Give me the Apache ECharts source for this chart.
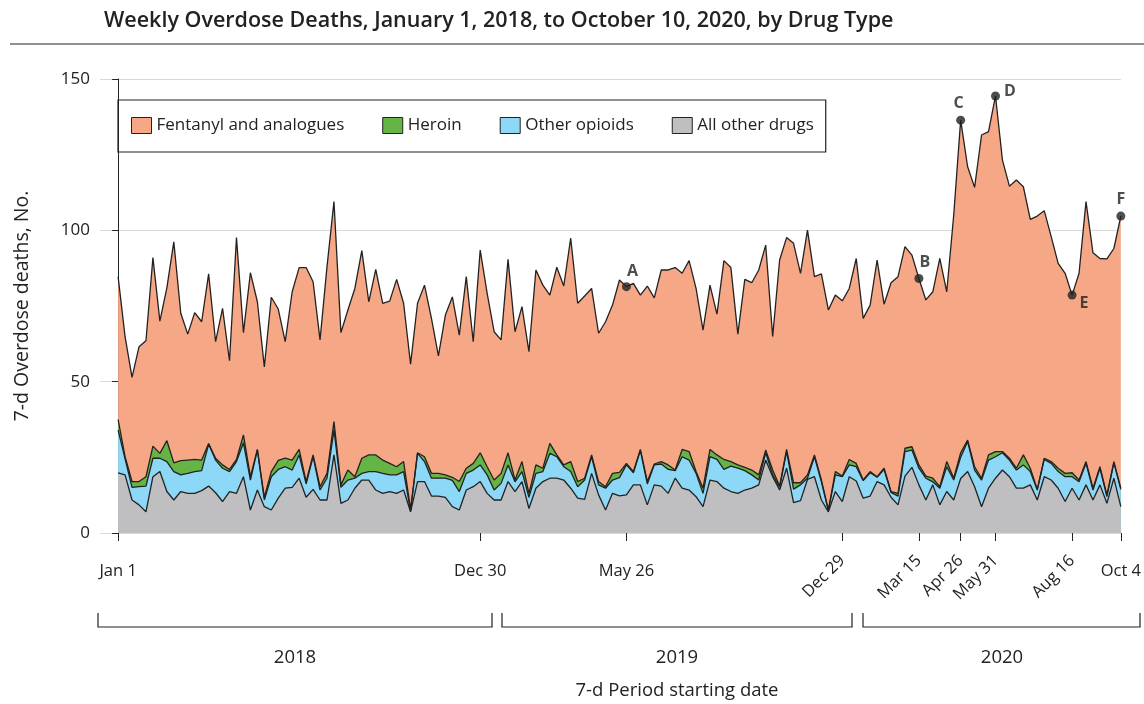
<!DOCTYPE html>
<html><head><meta charset="utf-8">
<script src="https://cdn.jsdelivr.net/npm/echarts@6.0.0/dist/echarts.min.js"></script>
<style>html,body{margin:0;padding:0;background:#fff}#c{width:1144px;height:704px}</style>
</head><body><div id="c"></div><script>
// Weekly values (index 0 = week of Jan 1, 2018; index 144 = week of Oct 4, 2020)
const allOtherDrugs = [
19.9,19.2,10.9,9.3,7.0,18.6,20.3,13.7,10.9,13.7,
13.1,13.1,14.0,15.5,13.3,10.4,13.7,13.1,18.6,7.6,
14.2,8.7,7.6,11.5,14.8,15.1,18.1,11.8,14.4,10.9,
10.9,25.8,9.8,10.9,14.8,17.5,17.5,14.2,13.1,13.7,
13.1,14.2,7.0,17.0,17.0,12.2,12.2,11.8,8.7,7.6,
14.2,15.3,17.0,13.1,10.9,10.9,17.0,13.7,17.0,8.1,
14.8,17.0,18.1,18.1,17.5,14.8,11.5,11.1,19.7,12.6,
7.6,13.1,12.3,12.6,15.9,15.9,9.3,15.9,15.5,13.1,
18.1,14.8,14.2,12.0,8.7,17.5,17.0,14.8,13.7,13.1,
14.2,14.8,15.9,24.1,18.6,14.2,21.4,10.0,10.7,17.7,
18.6,10.9,7.0,13.7,10.4,18.6,17.2,11.5,12.2,17.0,
15.9,11.8,9.3,18.8,21.7,15.9,10.9,15.9,9.3,13.7,
10.9,18.0,20.3,15.3,8.7,14.8,18.1,20.8,18.6,14.8,
14.8,15.9,10.9,18.6,17.5,14.8,10.4,14.8,10.9,15.9,
10.9,15.9,9.8,18.1,8.7];
const otherOpioids = [
14.1,5.3,4.2,6.0,8.5,6.1,4.4,9.9,9.4,5.5,
6.6,7.2,6.6,13.8,10.8,11.0,6.6,10.5,11.2,9.9,
13.2,2.2,11.0,9.5,7.1,5.7,7.7,4.4,10.8,3.3,
7.2,8.2,5.3,6.6,3.3,2.2,2.8,6.1,6.6,5.5,
6.1,6.1,0.3,9.3,6.6,5.9,5.9,6.3,8.7,6.1,
5.5,5.5,5.5,6.1,3.3,5.5,5.5,3.2,3.3,3.7,
4.9,3.3,8.2,7.1,4.4,5.5,3.8,6.4,5.5,3.3,
7.2,4.4,6.0,9.9,4.0,11.3,6.9,6.6,7.3,7.9,
2.5,10.4,9.9,7.7,4.4,7.7,7.3,6.2,8.4,8.3,
6.4,4.4,1.6,2.4,0.6,0.9,5.5,4.5,5.2,0.4,
6.6,6.0,0.4,5.5,8.2,3.9,4.7,5.8,7.7,1.4,
5.1,1.6,2.9,8.1,5.7,5.5,7.2,1.0,5.5,8.2,
6.6,7.0,9.9,5.5,8.8,9.3,7.1,5.7,5.5,6.0,
7.7,4.4,3.3,5.7,5.5,5.5,8.2,3.8,6.0,7.1,
3.3,5.5,2.2,5.1,5.7];
const heroin = [
3.5,0.7,1.9,1.7,3.1,4.0,1.6,6.9,2.9,4.7,
4.4,4.0,3.5,0.3,0.6,1.1,0.7,0.7,2.6,1.1,
0.2,0.9,1.7,3.0,2.8,3.3,1.8,0.8,0.6,1.1,
1.6,2.8,0.8,3.3,0.5,5.0,5.5,5.5,4.4,3.8,
2.7,3.3,0.5,0.2,1.6,1.6,1.6,1.1,1.0,3.3,
1.7,2.2,4.0,2.7,3.3,3.3,4.0,0.6,3.3,1.3,
2.8,1.1,3.3,0.6,0.6,3.3,1.7,0.6,0.6,1.1,
0.5,2.2,1.7,0.5,0.4,0.4,0.8,0.3,0.8,1.5,
0.2,2.4,2.8,0.6,1.7,2.4,1.5,3.3,1.5,1.1,
1.1,1.6,1.7,0.9,1.6,0.4,0.7,2.1,0.7,1.1,
0.6,0.6,0.2,1.1,0.2,1.8,1.1,0.2,0.4,0.2,
0.4,0.3,0.9,1.1,1.1,1.1,0.7,1.2,0.5,1.7,
0.6,1.5,0.5,1.1,0.6,1.7,1.7,0.4,0.6,0.6,
3.3,1.1,0.2,0.4,0.6,1.1,1.1,1.3,0.6,0.6,
0.6,0.5,0.6,0.4,0.4];
const fentanyl = [
47.2,39.7,34.4,44.5,44.9,62.3,43.7,50.5,73.0,48.7,
41.6,48.5,45.7,56.0,38.5,51.7,35.9,73.3,33.8,67.4,
48.8,43.1,57.6,50.0,38.5,55.6,60.1,70.7,57.2,48.5,
68.3,72.7,50.3,52.9,62.2,68.6,50.6,61.3,51.8,53.6,
61.9,52.3,48.0,49.4,56.7,51.2,38.8,52.8,59.6,48.4,
63.3,40.2,67.0,57.3,49.0,44.1,63.9,49.0,51.2,46.8,
64.4,60.5,49.0,62.0,59.1,73.8,58.9,60.2,55.0,49.0,
54.5,55.6,63.6,58.4,62.2,51.0,64.6,54.9,63.3,64.4,
66.9,58.2,63.1,60.5,52.2,54.3,46.5,65.7,64.1,43.2,
62.1,61.9,67.7,67.7,44.1,74.7,70.0,79.1,69.2,80.9,
58.9,68.1,66.1,58.3,57.9,56.5,67.7,53.4,55.0,71.6,
54.2,69.0,71.6,66.6,63.3,61.6,58.2,61.6,75.4,56.1,
86.9,109.9,90.3,92.3,113.4,106.8,117.5,96.3,89.9,95.2,
88.6,82.2,90.3,81.8,74.3,67.7,66.1,58.7,68.3,85.9,
77.8,68.8,78.0,70.4,89.9];

const seriesNames = ['Fentanyl and analogues','Heroin','Other opioids','All other drugs'];
const flatTickWeeks = [0, 52, 73, 144];
const flatTickLabels = ['Jan 1', 'Dec 30', 'May 26', 'Oct 4'];
const slantTickWeeks = [104, 115, 121, 126, 137];
const slantTickLabels = ['Dec 29', 'Mar 15', 'Apr 26', 'May 31', 'Aug 16'];
const yearLabels = ['2018', '2019', '2020'];
const annotWeeks = [73, 115, 121, 126, 137, 144];
const annotLabels = ['A', 'B', 'C', 'D', 'E', 'F'];

const FONT = 'Open Sans';
const colors = {fent:'#F6A886', her:'#66B445', opi:'#8DD7F7', oth:'#BFBFC1'};

// Stack the layers (bottom -> top) by summing the read values per week.
const layersBottomUp = [allOtherDrugs, otherOpioids, heroin, fentanyl];
const cumulative = [];
layersBottomUp.forEach((arr, k) => {
  cumulative.push(arr.map((v, i) => (k ? cumulative[k - 1][i][1] : 0) + v).map((v, i) => [i, +v.toFixed(2)]));
});
const totalAt = i => cumulative[3][i][1];

const labelPos = {
  A: {position:'top', offset:[6, 2]},
  B: {position:'top', offset:[6, 1]},
  C: {position:'top', offset:[-2, 1]},
  D: {position:'right', offset:[-1, -5]},
  E: {position:'right', offset:[-2, 8]},
  F: {position:'top', offset:[0, 1]}
};

function areaSeries(name, data, color) {
  return {
    name, type:'line', data, symbol:'none', z:2,
    itemStyle:{color}, lineStyle:{color:'#222', width:1.3},
    areaStyle:{color, opacity:1, origin:'start'}, emphasis:{disabled:true}
  };
}

function mapLabel(weeks, labels) {
  return v => { const k = weeks.indexOf(Math.round(v)); return k >= 0 ? labels[k] : ''; };
}

const chart = echarts.init(document.getElementById('c'), null, {renderer:'canvas'});
const option = {
  animation:false,
  textStyle:{fontFamily:FONT},
  title:{text:'Weekly Overdose Deaths, January 1, 2018, to October 10, 2020, by Drug Type',
    left:99, top:5, textStyle:{fontFamily:FONT, fontSize:21.5, fontWeight:600, color:'#222'}},
  legend:{
    data: seriesNames, left:118, top:100, icon:'rect', itemWidth:20, itemHeight:16, itemGap:38,
    padding:[17,12,18,13], borderColor:'#222', borderWidth:1.2,
    itemStyle:{borderColor:'#222', borderWidth:1},
    textStyle:{fontFamily:FONT, fontSize:17, color:'#222'}, selectedMode:false
  },
  grid:{left:100, right:23, top:79, bottom:171},
  xAxis:[
    {type:'value', min:-2.6, max:144, position:'bottom', offset:0,
     axisLine:{show:false}, splitLine:{show:false},
     axisTick:{show:true, customValues: flatTickWeeks.concat(slantTickWeeks), length:8, lineStyle:{color:'#222'}},
     axisLabel:{customValues: flatTickWeeks, formatter: mapLabel(flatTickWeeks, flatTickLabels),
       fontFamily:FONT, fontSize:16.5, color:'#222', margin:30}},
    {type:'value', min:-2.6, max:144, position:'bottom', offset:0,
     axisLine:{show:false}, splitLine:{show:false}, axisTick:{show:false},
     axisLabel:{customValues: slantTickWeeks, formatter: mapLabel(slantTickWeeks, slantTickLabels),
       rotate:45, fontFamily:FONT, fontSize:16.5, color:'#222', margin:25}}
  ],
  yAxis:{type:'value', min:0, max:150, interval:50,
    name:'7-d Overdose deaths, No.', nameLocation:'middle', nameGap:68,
    nameTextStyle:{fontFamily:FONT, fontSize:19.5, color:'#222'},
    axisLine:{show:true, lineStyle:{color:'#222', width:1}},
    axisTick:{show:true, length:6, lineStyle:{color:'#222'}},
    axisLabel:{fontFamily:FONT, fontSize:17, color:'#222', margin:10},
    splitLine:{show:true, lineStyle:{color:'#d9d9d9', width:1.2}}},
  series:[
    areaSeries(seriesNames[0], cumulative[3], colors.fent),
    areaSeries(seriesNames[1], cumulative[2], colors.her),
    areaSeries(seriesNames[2], cumulative[1], colors.opi),
    areaSeries(seriesNames[3], cumulative[0], colors.oth),
    {type:'scatter', z:5, symbolSize:9, itemStyle:{color:'#222'}, silent:true,
     data: annotWeeks.map((w, k) => ({
       value:[w, totalAt(w)],
       label:Object.assign({show:true, formatter:annotLabels[k], fontFamily:FONT, fontWeight:700,
         fontSize:16, color:'#222'}, labelPos[annotLabels[k]])
     }))}
  ],
  graphic:[
    {type:'line', shape:{x1:10, y1:44, x2:1144, y2:44}, style:{stroke:'#222', lineWidth:1.2}},
    {type:'polyline', shape:{points:[[98,613],[98,627],[492,627],[492,613]]}, style:{stroke:'#222', lineWidth:1.2, fill:null}},
    {type:'polyline', shape:{points:[[502,613],[502,627],[852,627],[852,613]]}, style:{stroke:'#222', lineWidth:1.2, fill:null}},
    {type:'polyline', shape:{points:[[863,613],[863,627],[1140,627],[1140,613]]}, style:{stroke:'#222', lineWidth:1.2, fill:null}},
    {type:'text', x:295, y:658, style:{text:yearLabels[0], font:'18.5px "Open Sans"', fill:'#222', align:'center', verticalAlign:'middle'}},
    {type:'text', x:677, y:658, style:{text:yearLabels[1], font:'18.5px "Open Sans"', fill:'#222', align:'center', verticalAlign:'middle'}},
    {type:'text', x:1002, y:658, style:{text:yearLabels[2], font:'18.5px "Open Sans"', fill:'#222', align:'center', verticalAlign:'middle'}},
    {type:'text', x:677, y:691, style:{text:'7-d Period starting date', font:'18.5px "Open Sans"', fill:'#222', align:'center', verticalAlign:'middle'}}
  ]
};
chart.setOption(option);
</script></body></html>
